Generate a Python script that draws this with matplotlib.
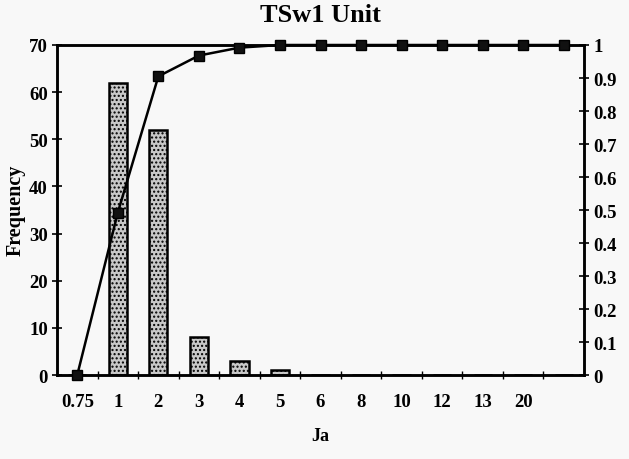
import matplotlib
matplotlib.use("Agg")
import matplotlib.pyplot as plt
import numpy as np

# Ja classes and their counts
ja_labels = ["0.75", "1", "2", "3", "4", "5", "6", "8", "10", "12", "13", "20", ""]
frequency = [0, 62, 52, 8, 3, 1, 0, 0, 0, 0, 0, 0, 0]
cumulative = [0.0, 0.492, 0.905, 0.968, 0.992, 1.0, 1.0, 1.0, 1.0, 1.0, 1.0, 1.0, 1.0]

plt.rcParams["font.family"] = ["Liberation Serif", "DejaVu Serif"]
plt.rcParams["font.weight"] = "bold"
plt.rcParams["hatch.color"] = "#444444"

bg = "#f8f8f8"
fig = plt.figure(figsize=(6.29, 4.6), dpi=100, facecolor=bg)
ax = fig.add_axes([0.0906, 0.1826, 0.8379, 0.7174], facecolor=bg)

x = np.arange(len(ja_labels))
ax.bar(x, frequency, width=0.45, facecolor="#c8c8c8", edgecolor="black",
       linewidth=1.8, hatch="....", zorder=2)

ax.set_xlim(-0.5, len(ja_labels) - 0.5)
ax.set_ylim(0, 70)
ax.set_yticks(np.arange(0, 71, 10))
ax.set_xticks(x)
ax.set_xticklabels(ja_labels)
ax.set_xticks(x[:-1] + 0.5, minor=True)
ax.tick_params(axis="x", which="major", length=0, pad=13, labelsize=13.5)
ax.tick_params(axis="x", which="minor", length=6, direction="inout", width=1)
ax.tick_params(axis="y", length=7, direction="inout", width=1.2, labelsize=13.5, pad=3)
for s in ax.spines.values():
    s.set_linewidth(1.8)

ax2 = ax.twinx()
ax2.plot(x, cumulative, color="black", linewidth=1.8, marker="s",
         markersize=6.5, markerfacecolor="#111111", markeredgecolor="black",
         clip_on=False, zorder=3)
ax2.set_ylim(0, 1)
ax2.set_yticks(np.round(np.arange(0, 1.01, 0.1), 1))
ax2.set_yticklabels(["0", "0.1", "0.2", "0.3", "0.4", "0.5", "0.6", "0.7",
                     "0.8", "0.9", "1"])
ax2.tick_params(axis="y", length=7, direction="inout", width=1.2, labelsize=13.5, pad=3)
for s in ax2.spines.values():
    s.set_linewidth(1.8)

ax.set_title("TSw1 Unit", fontsize=19, fontweight="bold", pad=17)
ax.set_xlabel("Ja", fontsize=13, fontweight="bold", labelpad=12)
fig.text(0.025, 0.543, "Frequency", rotation=90, fontsize=14.5,
         fontweight="bold", ha="center", va="center")

fig.savefig("out.png", dpi=100, facecolor=bg)
